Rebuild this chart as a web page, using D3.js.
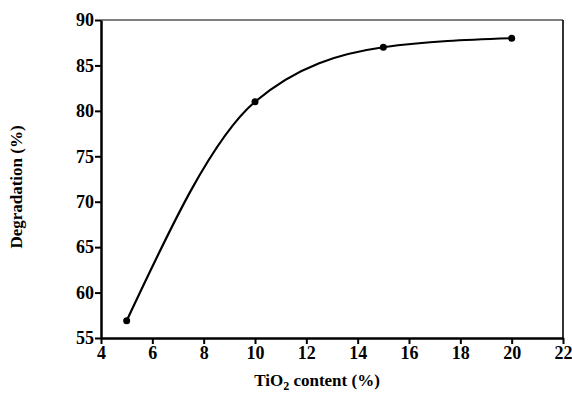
<!DOCTYPE html>
<html>
<head>
<meta charset="utf-8">
<script src="https://cdn.jsdelivr.net/npm/d3@7"></script>
<style>
    body { margin: 0; background: #fff; }
</style>
</head>
<body>
<script>
    // data
    var tio2 = [5, 10, 15, 20];
    var degradation = [56.9, 81, 87, 88];
    var xTicks = [4, 6, 8, 10, 12, 14, 16, 18, 20, 22];
    var yTicks = [55, 60, 65, 70, 75, 80, 85, 90];

    var data = tio2.map(function(d, i) { return {x: d, y: degradation[i]}; });

    var serif = "'Liberation Serif', 'Times New Roman', Times, serif";

    var margin = {top: 20, bottom: 79, left: 101, right: 9};
    var width = 572 - margin.left - margin.right;
    var height = 417 - margin.top - margin.bottom;

    var xScale = d3.scaleLinear()
                    .domain([4, 22])
                    .range([0, width]);

    var yScale = d3.scaleLinear()
                    .domain([55, 90])
                    .range([height, 0]);

    var svg = d3.select("body")
                .append("svg")
                .attr("width", 572)
                .attr("height", 417);

    var g = svg.append("g")
                .attr("transform", "translate(" + margin.left + "," + margin.top + ")");

    // frame: top and right borders
    g.append("line")
        .attr("x1", 0).attr("x2", width)
        .attr("y1", 0).attr("y2", 0)
        .attr("stroke", "#000")
        .attr("stroke-width", 1.2);
    g.append("line")
        .attr("x1", width).attr("x2", width)
        .attr("y1", 0).attr("y2", height)
        .attr("stroke", "#000")
        .attr("stroke-width", 1.6);

    // x axis
    var xAxis = d3.axisBottom(xScale)
                    .tickValues(xTicks)
                    .tickSize(6)
                    .tickSizeOuter(0)
                    .tickPadding(2)
                    .tickFormat(d3.format("d"));
    var gx = g.append("g")
        .attr("transform", "translate(0," + height + ")")
        .call(xAxis);
    gx.select(".domain").attr("stroke", "#000").attr("stroke-width", 2.5);
    gx.selectAll(".tick line").attr("stroke", "#000").attr("stroke-width", 2);

    // y axis
    var yAxis = d3.axisLeft(yScale)
                    .tickValues(yTicks)
                    .tickSize(6)
                    .tickSizeOuter(0)
                    .tickPadding(1);
    var gy = g.append("g")
        .call(yAxis);
    gy.select(".domain").attr("stroke", "#000").attr("stroke-width", 2.5);
    gy.selectAll(".tick line").attr("stroke", "#000").attr("stroke-width", 2);

    [gx, gy].forEach(function(a) {
        a.attr("font-family", null).attr("font-size", null);
        a.selectAll(".tick text")
            .attr("fill", "#000")
            .style("font-family", serif)
            .style("font-weight", "bold")
            .style("font-size", "18px");
    });

    // curve
    var line = d3.line()
                .x(function(d) { return xScale(d.x); })
                .y(function(d) { return yScale(d.y); })
                .curve(d3.curveMonotoneX);

    g.append("path")
        .datum(data)
        .attr("d", line)
        .attr("fill", "none")
        .attr("stroke", "#000")
        .attr("stroke-width", 2.2);

    g.selectAll("circle")
        .data(data)
        .enter()
        .append("circle")
        .attr("cx", function(d) { return xScale(d.x); })
        .attr("cy", function(d) { return yScale(d.y); })
        .attr("r", 3.5)
        .attr("fill", "#000");

    // axis titles
    var xt = svg.append("text")
        .attr("x", 317)
        .attr("y", 386)
        .attr("text-anchor", "middle")
        .style("font-family", serif)
        .style("font-weight", "bold")
        .style("font-size", "17px");
    xt.append("tspan").text("TiO");
    xt.append("tspan").style("font-size", "12px").attr("dy", 4).text("2");
    xt.append("tspan").attr("dy", -4).text(" content (%)");

    svg.append("text")
        .attr("transform", "translate(22,187) rotate(-90)")
        .attr("text-anchor", "middle")
        .style("font-family", serif)
        .style("font-weight", "bold")
        .style("font-size", "17px")
        .text("Degradation (%)");
</script>
</body>
</html>
